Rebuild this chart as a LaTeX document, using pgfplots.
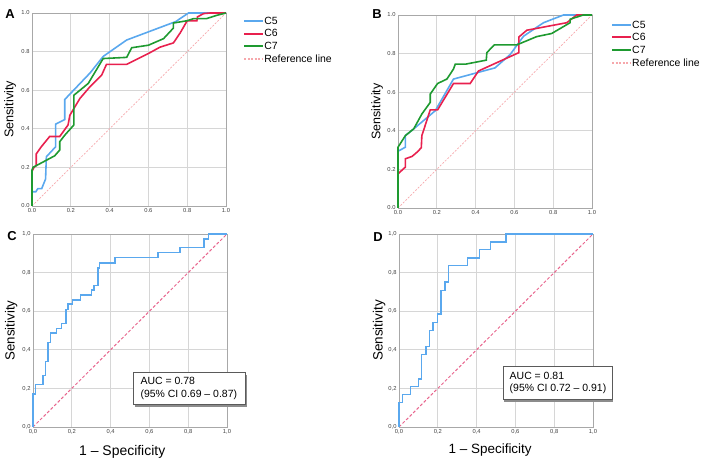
\documentclass[border=0pt]{standalone}
\usepackage{pgfplots}
\pgfplotsset{compat=1.18}
\usepackage{fontspec}
\setmainfont{Liberation Sans}
\definecolor{blueC}{RGB}{90,168,238}
\definecolor{redC}{RGB}{232,32,78}
\definecolor{greenC}{RGB}{30,154,48}
\definecolor{refA}{RGB}{246,168,172}
\definecolor{refC}{RGB}{232,102,142}
\definecolor{gridc}{RGB}{214,214,214}
\definecolor{axc}{RGB}{168,168,168}
\definecolor{shadowc}{RGB}{140,140,140}
\definecolor{boxc}{RGB}{90,90,90}
\pgfplotsset{
  roc/.style={
    scale only axis, width=194bp, height=193bp,
    xmin=0, xmax=1, ymin=0, ymax=1,
    xtick={0,0.2,0.4,0.6,0.8,1}, ytick={0,0.2,0.4,0.6,0.8,1},
    grid=major, grid style={line width=0.9pt, color=gridc},
    axis line style={line width=0.8pt, color=axc},
    major tick length=0pt,
    tick label style={font=\fontsize{5.8}{6}\selectfont, color=black!75},
    yticklabel style={xshift=1bp},
    xticklabel style={yshift=1bp},
    /pgf/number format/.cd, fixed, fixed zerofill, precision=1, assume math mode=true,
    /pgfplots/.cd,
    clip=false,
  },
  legend image code/.code={\draw[line width=2bp,#1] (0bp,0bp) -- (19bp,0bp);},
  rocleg/.style={legend style={draw=none, fill=none, inner sep=0pt,
      font=\fontsize{10.5}{11}\selectfont,
      nodes={inner sep=0pt, text height=8bp, text depth=1.5bp, anchor=west},
      row sep=3.2bp,
      /tikz/every even column/.append style={column sep=6bp}},
    legend cell align=left},
}
\begin{document}
\begin{tikzpicture}[x=1bp,y=1bp]
\useasboundingbox (0,0) rectangle (708,464);
% ---------- A ----------
\begin{axis}[roc, rocleg, at={(32bp,258bp)}, anchor=south west,
  ylabel={Sensitivity},
  ylabel style={at={(axis description cs:-0.113,0.5)}, anchor=center, font=\fontsize{12.7}{13}\selectfont},
  legend style={at={(axis description cs:1.088,0.985)}, anchor=north west}]
\addplot[color=refA, line width=0.7pt, dash pattern=on 2pt off 1.5pt, forget plot] coordinates {(0,0)(1,1)};
\addplot[color=blueC, line width=1.6pt] coordinates {(0,0)(0,0.074)(0.02,0.074)(0.03,0.09)(0.05,0.09)(0.07,0.14)(0.074,0.255)(0.122,0.307)(0.122,0.424)(0.169,0.448)(0.169,0.552)(0.3,0.69)(0.367,0.775)(0.488,0.86)(0.74,0.955)(0.807,1)(1,1)};
\addlegendentry{C5}
\addplot[color=redC, line width=1.6pt] coordinates {(0,0)(0,0.18)(0.01,0.2)(0.022,0.21)(0.022,0.27)(0.048,0.307)(0.091,0.36)(0.143,0.36)(0.186,0.42)(0.195,0.47)(0.247,0.557)(0.298,0.617)(0.359,0.678)(0.384,0.734)(0.488,0.734)(0.6,0.79)(0.66,0.823)(0.729,0.845)(0.764,0.897)(0.8,0.96)(0.85,0.96)(0.853,0.98)(0.885,0.997)(0.92,1)(1,1)};
\addlegendentry{C6}
\addplot[color=greenC, line width=1.6pt] coordinates {(0,0)(0,0.186)(0.005,0.2)(0.117,0.26)(0.143,0.29)(0.143,0.333)(0.169,0.367)(0.216,0.42)(0.216,0.574)(0.29,0.635)(0.367,0.764)(0.488,0.77)(0.514,0.82)(0.6,0.833)(0.678,0.867)(0.729,0.922)(0.729,0.948)(0.8,0.96)(0.833,0.971)(0.9,0.971)(0.953,0.988)(1,1)};
\addlegendentry{C7}
\addlegendimage{color=refA, line width=0.7pt, dash pattern=on 2pt off 1.5pt}
\addlegendentry{Reference line}
\end{axis}
% ---------- B ----------
\begin{axis}[roc, rocleg, at={(398bp,256bp)}, anchor=south west,
  ylabel={Sensitivity},
  ylabel style={at={(axis description cs:-0.108,0.5)}, anchor=center, font=\fontsize{12.5}{13}\selectfont},
  legend style={at={(axis description cs:1.098,0.975)}, anchor=north west}]
\addplot[color=refA, line width=0.7pt, dash pattern=on 2pt off 1.5pt, forget plot] coordinates {(0,0)(1,1)};
\addplot[color=blueC, line width=1.6pt] coordinates {(0,0)(0,0.294)(0.038,0.315)(0.038,0.375)(0.081,0.41)(0.192,0.504)(0.286,0.668)(0.5,0.726)(0.578,0.795)(0.647,0.89)(0.75,0.96)(0.853,1)(1,1)};
\addlegendentry{C5}
\addplot[color=redC, line width=1.6pt] coordinates {(0,0)(0,0.177)(0.038,0.212)(0.038,0.255)(0.072,0.267)(0.098,0.289)(0.12,0.312)(0.123,0.375)(0.166,0.508)(0.204,0.508)(0.286,0.645)(0.372,0.645)(0.415,0.71)(0.623,0.805)(0.623,0.886)(0.664,0.921)(0.87,0.96)(0.921,1)(1,1)};
\addlegendentry{C6}
\addplot[color=greenC, line width=1.6pt] coordinates {(0,0)(0,0.315)(0.038,0.375)(0.081,0.41)(0.123,0.487)(0.166,0.547)(0.166,0.59)(0.204,0.645)(0.252,0.668)(0.286,0.72)(0.295,0.745)(0.347,0.745)(0.455,0.766)(0.458,0.805)(0.496,0.845)(0.612,0.845)(0.715,0.888)(0.792,0.904)(0.887,0.96)(0.887,0.978)(0.955,1)(1,1)};
\addlegendentry{C7}
\addlegendimage{color=refA, line width=0.7pt, dash pattern=on 2pt off 1.5pt}
\addlegendentry{Reference line}
\end{axis}
% ---------- C ----------
\begin{axis}[roc, at={(33bp,37bp)}, anchor=south west,
  /pgf/number format/use comma,
  xlabel={1 -- Specificity}, ylabel={Sensitivity},
  ylabel style={at={(axis description cs:-0.113,0.5)}, anchor=center, font=\fontsize{13.3}{14}\selectfont},
  xlabel style={at={(axis description cs:0.46,-0.13)}, anchor=center, font=\fontsize{14}{15}\selectfont}]
\addplot[color=refC, line width=1pt, dash pattern=on 3pt off 2pt] coordinates {(0,0)(1,1)};
\addplot[color=blueC, line width=1.5pt] coordinates {(0,0)(0,0.17)(0.012,0.17)(0.012,0.221)(0.052,0.221)(0.052,0.268)(0.064,0.268)(0.064,0.34)(0.077,0.34)(0.077,0.438)(0.09,0.438)(0.09,0.488)(0.12,0.488)(0.12,0.51)(0.146,0.51)(0.146,0.536)(0.169,0.536)(0.169,0.609)(0.181,0.609)(0.181,0.637)(0.203,0.637)(0.203,0.657)(0.246,0.657)(0.246,0.683)(0.301,0.683)(0.301,0.709)(0.315,0.709)(0.315,0.732)(0.336,0.732)(0.336,0.824)(0.344,0.824)(0.344,0.85)(0.422,0.85)(0.422,0.877)(0.645,0.877)(0.645,0.903)(0.757,0.903)(0.757,0.931)(0.881,0.931)(0.881,0.974)(0.904,0.974)(0.904,1)(1,1)};
\fill[shadowc] ([xshift=1.8bp,yshift=-1.8bp]axis description cs:0.515,0.114) rectangle ++(112bp,32bp);
\node[draw=boxc, line width=0.8pt, fill=white,
  minimum width=112bp, minimum height=32bp, inner sep=0pt, anchor=south west, align=left,
  font=\fontsize{10.5}{12.5}\selectfont] at (axis description cs:0.515,0.114)
  {\hspace*{5bp}AUC = 0.78\hfill\null\\\hspace*{5bp}(95\% CI 0.69 -- 0.87)\hspace*{6bp}};
\end{axis}
% ---------- D ----------
\begin{axis}[roc, at={(399bp,37bp)}, anchor=south west,
  /pgf/number format/use comma,
  xlabel={1 -- Specificity}, ylabel={Sensitivity},
  ylabel style={at={(axis description cs:-0.103,0.5)}, anchor=center, font=\fontsize{13.5}{14}\selectfont},
  xlabel style={at={(axis description cs:0.47,-0.12)}, anchor=center, font=\fontsize{13.5}{15}\selectfont}]
\addplot[color=refC, line width=1pt, dash pattern=on 3pt off 2pt] coordinates {(0,0)(1,1)};
\addplot[color=blueC, line width=1.5pt] coordinates {(0,0)(0,0.128)(0.019,0.128)(0.019,0.168)(0.06,0.168)(0.06,0.211)(0.1,0.211)(0.1,0.249)(0.117,0.249)(0.117,0.375)(0.138,0.375)(0.138,0.418)(0.157,0.418)(0.157,0.501)(0.174,0.501)(0.174,0.542)(0.198,0.542)(0.198,0.585)(0.216,0.585)(0.216,0.708)(0.238,0.708)(0.238,0.751)(0.255,0.751)(0.255,0.836)(0.353,0.836)(0.353,0.876)(0.414,0.876)(0.414,0.919)(0.471,0.919)(0.471,0.959)(0.552,0.959)(0.552,1)(1,1)};
\fill[shadowc] ([xshift=1.8bp,yshift=-1.8bp]axis description cs:0.534,0.14) rectangle ++(109bp,33bp);
\node[draw=boxc, line width=0.8pt, fill=white,
  minimum width=109bp, minimum height=33bp, inner sep=0pt, anchor=south west, align=left,
  font=\fontsize{10.5}{12.5}\selectfont] at (axis description cs:0.534,0.14)
  {\hspace*{5bp}AUC = 0.81\hfill\null\\\hspace*{5bp}(95\% CI 0.72 -- 0.91)\hspace*{4bp}};
\end{axis}
% ---------- panel letters ----------
\node[font=\fontsize{13}{14}\selectfont\bfseries] at (10,450) {A};
\node[font=\fontsize{13}{14}\selectfont\bfseries] at (377,450) {B};
\node[font=\fontsize{13}{14}\selectfont\bfseries] at (12,228) {C};
\node[font=\fontsize{13}{14}\selectfont\bfseries] at (378,227) {D};
\end{tikzpicture}
\end{document}
